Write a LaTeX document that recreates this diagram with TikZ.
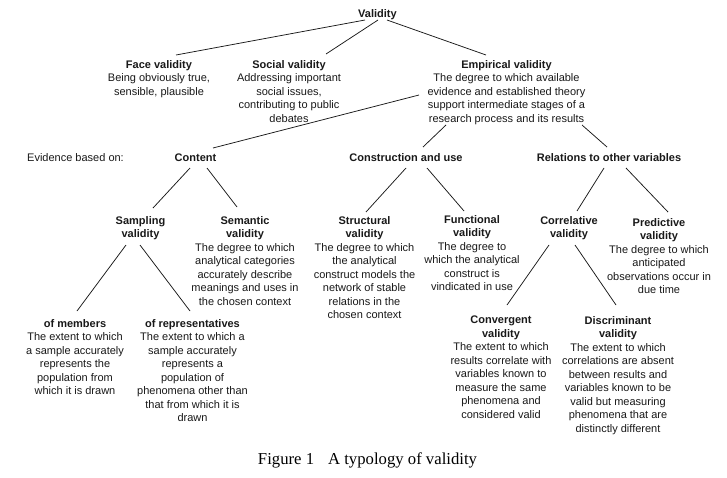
\documentclass[tikz,border=0pt]{standalone}
\usepackage{fontspec}
\setmainfont{Liberation Sans}
\newfontfamily\capfont{Liberation Serif}
\begin{document}
\begin{tikzpicture}[x=1pt,y=-1pt,
  txt/.style={anchor=base,align=center,inner sep=0pt,font=\fontsize{11}{13.5}\selectfont,text=black!90},
  blk/.style={txt,anchor=north},
  conn/.style={draw=black!90,line width=0.75pt}]
\useasboundingbox[fill=white] (0,0) rectangle (727,477);
% nodes (blk nodes: y = first baseline - 7.9)
\node[txt] (val) at (377.5,17) {\textbf{Validity}};
\node[blk] (face) at (159,60.1) {\textbf{Face validity}\\Being obviously true,\\sensible, plausible};
\node[blk] (social) at (289,60.1) {\textbf{Social validity}\\Addressing important\\social issues,\\contributing to public\\debates};
\node[blk] (emp) at (506.5,60.1) {\textbf{Empirical validity}\\The degree to which available\\evidence and established theory\\support intermediate stages of a\\research process and its results};
\node[txt,anchor=base west] (evid) at (27,161) {Evidence based on:};
\node[txt] (content) at (195.5,161) {\textbf{Content}};
\node[txt] (constr) at (406,161) {\textbf{Construction and use}};
\node[txt] (rel) at (609,161) {\textbf{Relations to other variables}};
\node[blk] (samp) at (140.5,216.1) {\textbf{Sampling}\\\textbf{validity}};
\node[blk] (sem) at (245,216.1) {\textbf{Semantic}\\\textbf{validity}\\The degree to which\\analytical categories\\accurately describe\\meanings and uses in\\the chosen context};
\node[blk] (struct) at (364.5,216.1) {\textbf{Structural}\\\textbf{validity}\\The degree to which\\the analytical\\construct models the\\network of stable\\relations in the\\chosen context};
\node[blk] (func) at (472,215.1) {\textbf{Functional}\\\textbf{validity}\\The degree to\\which the analytical\\construct is\\vindicated in use};
\node[blk] (corr) at (569,216.1) {\textbf{Correlative}\\\textbf{validity}};
\node[blk] (pred) at (659,218.1) {\textbf{Predictive}\\\textbf{validity}\\The degree to which\\anticipated\\observations occur in\\due time};
\node[blk] (mem) at (75,319.1) {\textbf{of members}\\The extent to which\\a sample accurately\\represents the\\population from\\which it is drawn};
\node[blk] (rep) at (192.5,319.1) {\textbf{of representatives}\\The extent to which a\\sample accurately\\represents a\\population of\\phenomena other than\\that from which it is\\drawn};
\node[blk] (conv) at (501,316.1) {\textbf{Convergent}\\\textbf{validity}\\The extent to which\\results correlate with\\variables known to\\measure the same\\phenomena and\\considered valid};
\node[blk] (disc) at (618,316.1) {\textbf{Discriminant}\\\textbf{validity}\\The extent to which\\correlations are absent\\between results and\\variables known to be\\valid but measuring\\phenomena that are\\distinctly different};
\node[anchor=base,inner sep=0pt,font=\capfont\fontsize{16.7}{20}\selectfont] (cap) at (367.5,464) {Figure 1\hspace{14pt}A typology of validity};
% connector end points
\coordinate (val-f) at (365,20);   \coordinate (face-t) at (176,55);
\coordinate (val-s) at (378,20);   \coordinate (social-t) at (326,54);
\coordinate (val-e) at (387,20);   \coordinate (emp-t) at (486,55);
\coordinate (emp-c) at (419,95);   \coordinate (content-t) at (213,148);
\coordinate (emp-u) at (446,125);  \coordinate (constr-t) at (423,147);
\coordinate (emp-r) at (582,125);  \coordinate (rel-t) at (607,147);
\coordinate (content-a) at (190,168); \coordinate (samp-t) at (153,208);
\coordinate (content-b) at (207,168); \coordinate (sem-t) at (237,207);
\coordinate (constr-a) at (406,168);  \coordinate (struct-t) at (366,212);
\coordinate (constr-b) at (427,168);  \coordinate (func-t) at (464,211);
\coordinate (rel-a) at (604,168);     \coordinate (corr-t) at (577,211);
\coordinate (rel-b) at (626,168);     \coordinate (pred-t) at (668,212);
\coordinate (samp-a) at (126,245);    \coordinate (mem-t) at (77,311);
\coordinate (samp-b) at (140,245);    \coordinate (rep-t) at (190,311);
\coordinate (corr-a) at (549,245);    \coordinate (conv-t) at (507,305);
\coordinate (corr-b) at (575,245);    \coordinate (disc-t) at (616,305);
% connectors
\draw[conn] (val-f) -- (face-t);
\draw[conn] (val-s) -- (social-t);
\draw[conn] (val-e) -- (emp-t);
\draw[conn] (emp-c) -- (content-t);
\draw[conn] (emp-u) -- (constr-t);
\draw[conn] (emp-r) -- (rel-t);
\draw[conn] (content-a) -- (samp-t);
\draw[conn] (content-b) -- (sem-t);
\draw[conn] (constr-a) -- (struct-t);
\draw[conn] (constr-b) -- (func-t);
\draw[conn] (rel-a) -- (corr-t);
\draw[conn] (rel-b) -- (pred-t);
\draw[conn] (samp-a) -- (mem-t);
\draw[conn] (samp-b) -- (rep-t);
\draw[conn] (corr-a) -- (conv-t);
\draw[conn] (corr-b) -- (disc-t);
\end{tikzpicture}
\end{document}
